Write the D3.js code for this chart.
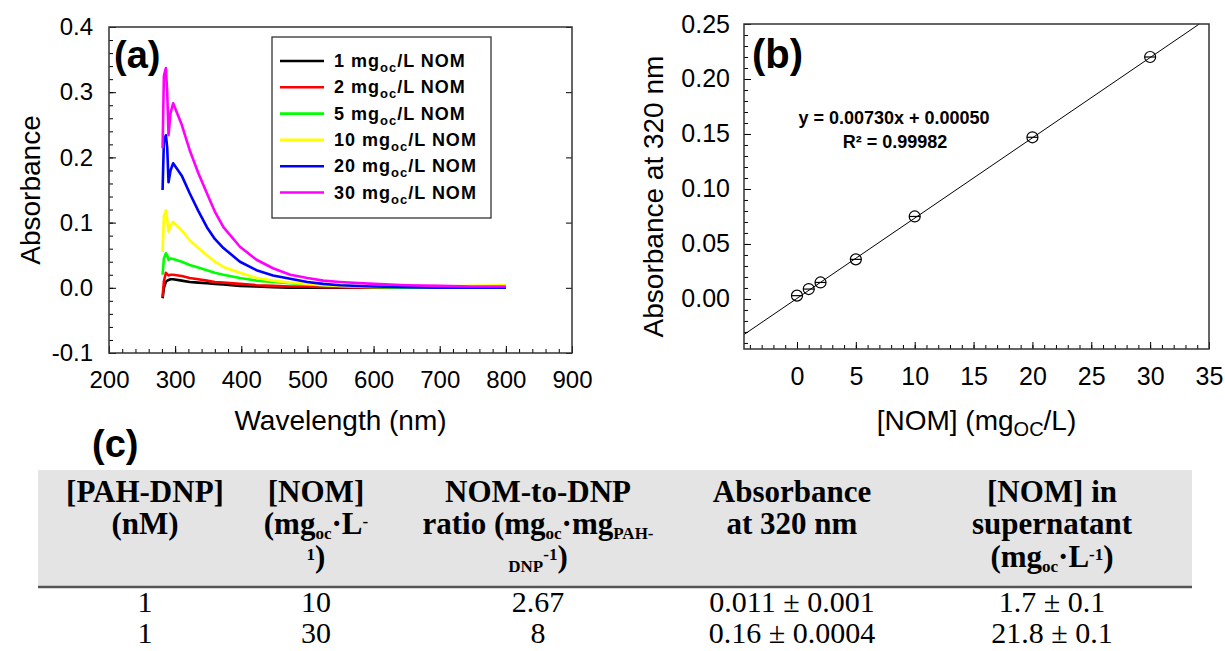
<!DOCTYPE html>
<html>
<head>
<meta charset="utf-8">
<script src="https://cdn.jsdelivr.net/npm/d3@7"></script>
<style>
  body { margin: 0; background: #fff; }
  svg { display: block; }
  text { font-family: Arial, "Liberation Sans", sans-serif; fill: #000; }
  .tbl text { font-family: "Times New Roman", "Liberation Serif", serif; }
</style>
</head>
<body>
<div id="chart"></div>
<script>
// ---- (a) UV-vis spectra, absorbance vs wavelength (nm) ----
const wavelength = [281, 283, 286, 288, 290, 293, 297, 310, 322, 335, 348, 360, 373, 398, 423, 448, 474, 500, 524, 549, 600, 650, 700, 750, 800];
const nom1  = [-0.016, 0.000, 0.009, 0.011, 0.012, 0.013, 0.013, 0.011, 0.009, 0.008, 0.007, 0.006, 0.005, 0.003, 0.002, 0.001, 0.000, 0.000, 0.000, 0.000, 0.000, 0.000, 0.000, 0.000, 0.000];
const nom2  = [-0.014, 0.010, 0.023, 0.021, 0.019, 0.020, 0.020, 0.018, 0.015, 0.013, 0.011, 0.009, 0.008, 0.006, 0.004, 0.003, 0.002, 0.002, 0.001, 0.001, 0.000, 0.000, 0.000, 0.000, 0.000];
const nom5  = [0.020, 0.045, 0.053, 0.050, 0.043, 0.045, 0.044, 0.040, 0.035, 0.031, 0.027, 0.023, 0.020, 0.015, 0.011, 0.009, 0.007, 0.005, 0.004, 0.003, 0.001, 0.000, 0.000, 0.000, 0.000];
const nom10 = [0.055, 0.110, 0.119, 0.105, 0.086, 0.096, 0.101, 0.088, 0.073, 0.061, 0.050, 0.040, 0.032, 0.023, 0.015, 0.011, 0.008, 0.006, 0.004, 0.003, 0.002, 0.002, 0.002, 0.003, 0.004];
const nom20 = [0.150, 0.225, 0.234, 0.215, 0.162, 0.180, 0.191, 0.172, 0.145, 0.118, 0.093, 0.075, 0.061, 0.040, 0.027, 0.019, 0.014, 0.009, 0.006, 0.004, 0.002, 0.001, 0.000, 0.000, 0.000];
const nom30 = [0.214, 0.325, 0.337, 0.300, 0.234, 0.268, 0.283, 0.250, 0.211, 0.176, 0.145, 0.117, 0.093, 0.063, 0.043, 0.030, 0.020, 0.015, 0.011, 0.009, 0.006, 0.004, 0.003, 0.002, 0.002];
const seriesNames = ["1", "2", "5", "10", "20", "30"];
const xTicksA = [200, 300, 400, 500, 600, 700, 800, 900];
const yTicksA = [-0.1, 0.0, 0.1, 0.2, 0.3, 0.4];

// ---- (b) calibration at 320 nm ----
const nomConc = [0, 1, 2, 5, 10, 20, 30];
const abs320 = [0.003, 0.009, 0.015, 0.036, 0.075, 0.147, 0.220];
const fitSlope = 0.00730;
const fitIntercept = 0.00050;
const xTicksB = [0, 5, 10, 15, 20, 25, 30, 35];
const yTicksB = [0.00, 0.05, 0.10, 0.15, 0.20, 0.25];

// ---- (c) table ----
const colPahDnp = ["1", "1"];
const colNom = ["10", "30"];
const colRatio = ["2.67", "8"];
const colAbs = ["0.011 \u00b1 0.001", "0.16 \u00b1 0.0004"];
const colSupernatant = ["1.7 \u00b1 0.1", "21.8 \u00b1 0.1"];

const spectra = [nom1, nom2, nom5, nom10, nom20, nom30];
const colorScale = d3.scaleOrdinal()
    .domain(seriesNames)
    .range(["#000000", "#ff0000", "#00ff00", "#ffff00", "#0000ff", "#ff00ff"]);

const svg = d3.select('#chart').append('svg')
    .attr('width', 1225)
    .attr('height', 651);

// style an axis group: no domain line, inward ticks, big labels
function styleAxis(g, size) {
  g.select('.domain').remove();
  g.attr('font-size', size).attr('font-family', 'Arial, "Liberation Sans", sans-serif');
  g.selectAll('line').attr('stroke', '#000').attr('stroke-width', 1);
  g.selectAll('text').attr('fill', '#000');
}

// ================= panel (a) =================
const A = {left: 109, right: 572, top: 27, bottom: 353};
const xA = d3.scaleLinear().domain([200, 900]).range([A.left, A.right]);
const yA = d3.scaleLinear().domain([-0.1, 0.4]).range([A.bottom, A.top]);
const gA = svg.append('g');

gA.append('g').attr('transform', `translate(0,${A.bottom})`)
    .call(d3.axisBottom(xA).tickValues(d3.range(200, 901, 20)).tickSize(-4).tickFormat(''))
    .call(g => styleAxis(g, 24));
gA.append('g').attr('transform', `translate(0,${A.bottom})`)
    .call(d3.axisBottom(xA).tickValues(xTicksA).tickSize(-7).tickPadding(18).tickFormat(d3.format('d')))
    .call(g => styleAxis(g, 24));
gA.append('g').attr('transform', `translate(${A.left},0)`)
    .call(d3.axisLeft(yA).tickValues(d3.range(-0.1, 0.401, 0.02)).tickSize(-4).tickFormat(''))
    .call(g => styleAxis(g, 24));
gA.append('g').attr('transform', `translate(${A.left},0)`)
    .call(d3.axisLeft(yA).tickValues(yTicksA).tickSize(-7).tickPadding(16).tickFormat(d => d.toFixed(1)))
    .call(g => styleAxis(g, 24));
gA.append('g').attr('transform', `translate(${A.right},0)`)
    .call(d3.axisRight(yA).tickValues(yTicksA).tickSize(-6).tickFormat(''))
    .call(g => styleAxis(g, 24));

const lineA = d3.line()
    .x((d, i) => xA(wavelength[i]))
    .y(d => yA(d));

gA.selectAll('.spectrum')
    .data(seriesNames)
    .join('path')
    .attr('class', 'spectrum')
    .attr('fill', 'none')
    .attr('stroke', d => colorScale(d))
    .attr('stroke-width', 2.6)
    .attr('stroke-linejoin', 'round')
    .attr('d', (d, i) => lineA(spectra[i]));

gA.append('rect')
    .attr('x', A.left).attr('y', A.top)
    .attr('width', A.right - A.left).attr('height', A.bottom - A.top)
    .attr('fill', 'none').attr('stroke', '#333').attr('stroke-width', 1.5);

// legend
const legend = gA.append('g');
legend.append('rect')
    .attr('x', 272).attr('y', 37).attr('width', 219).attr('height', 181)
    .attr('fill', '#fff').attr('stroke', '#333').attr('stroke-width', 1.3);
const legItem = legend.selectAll('.leg')
    .data(seriesNames)
    .join('g')
    .attr('class', 'leg')
    .attr('transform', (d, i) => `translate(0,${61 + i * 26.3})`);
legItem.append('line')
    .attr('x1', 280).attr('x2', 324)
    .attr('stroke', d => colorScale(d)).attr('stroke-width', 2.6);
const legText = legItem.append('text')
    .attr('x', 334).attr('y', 6)
    .attr('font-size', 18).attr('font-weight', 'bold')
    .attr('letter-spacing', 1);
legText.append('tspan').text(d => d + ' mg');
legText.append('tspan').attr('font-size', 13).attr('dy', 5).text('oc');
legText.append('tspan').attr('dy', -5).text('/L NOM');

gA.append('text')
    .attr('x', 114).attr('y', 68)
    .attr('font-size', 38).attr('font-weight', 'bold')
    .text('(a)');
gA.append('text')
    .attr('x', (A.left + A.right) / 2).attr('y', 430)
    .attr('text-anchor', 'middle').attr('font-size', 28)
    .text('Wavelength (nm)');
gA.append('text')
    .attr('transform', `translate(40,${(A.top + A.bottom) / 2}) rotate(-90)`)
    .attr('text-anchor', 'middle').attr('font-size', 28)
    .text('Absorbance');

// ================= panel (b) =================
const B = {left: 744, right: 1209, top: 24, bottom: 349};
const xB = d3.scaleLinear().domain([-4.5, 35]).range([B.left, B.right]);
const yB = d3.scaleLinear().domain([-0.0455, 0.25]).range([B.bottom, B.top]);
const gB = svg.append('g');

gB.append('g').attr('transform', `translate(0,${B.bottom})`)
    .call(d3.axisBottom(xB).tickValues(d3.range(-4, 35.5, 1)).tickSize(-4).tickFormat(''))
    .call(g => styleAxis(g, 25));
gB.append('g').attr('transform', `translate(0,${B.bottom})`)
    .call(d3.axisBottom(xB).tickValues(xTicksB).tickSize(-7).tickPadding(18).tickFormat(d3.format('d')))
    .call(g => styleAxis(g, 25));
gB.append('g').attr('transform', `translate(${B.left},0)`)
    .call(d3.axisLeft(yB).tickValues(d3.range(-0.04, 0.2501, 0.01)).tickSize(-4).tickFormat(''))
    .call(g => styleAxis(g, 25));
gB.append('g').attr('transform', `translate(${B.left},0)`)
    .call(d3.axisLeft(yB).tickValues(yTicksB).tickSize(-7).tickPadding(14).tickFormat(d => d.toFixed(2)))
    .call(g => styleAxis(g, 25));

// regression line, clipped at the top of the frame
const xFitEnd = Math.min(35, (0.25 - fitIntercept) / fitSlope);
const fitPts = [-4.5, xFitEnd];
gB.append('path')
    .attr('fill', 'none').attr('stroke', '#000').attr('stroke-width', 1)
    .attr('d', d3.line().x(d => xB(d)).y(d => yB(fitSlope * d + fitIntercept))(fitPts));

const pts = gB.selectAll('.pt')
    .data(nomConc)
    .join('g')
    .attr('class', 'pt')
    .attr('transform', (d, i) => `translate(${xB(d)},${yB(abs320[i])})`);
pts.append('circle').attr('r', 5.5)
    .attr('fill', 'none').attr('stroke', '#000').attr('stroke-width', 1.2);
pts.append('line').attr('x1', -5.5).attr('x2', 5.5)
    .attr('stroke', '#000').attr('stroke-width', 1.2);

gB.append('rect')
    .attr('x', B.left).attr('y', B.top)
    .attr('width', B.right - B.left).attr('height', B.bottom - B.top)
    .attr('fill', 'none').attr('stroke', '#333').attr('stroke-width', 1.5);

gB.append('text')
    .attr('x', 752).attr('y', 68)
    .attr('font-size', 40).attr('font-weight', 'bold')
    .text('(b)');
gB.append('text')
    .attr('x', 894).attr('y', 124)
    .attr('text-anchor', 'middle').attr('font-size', 18).attr('font-weight', 'bold')
    .text(`y = ${fitSlope.toFixed(5)}x + ${fitIntercept.toFixed(5)}`);
gB.append('text')
    .attr('x', 895).attr('y', 148)
    .attr('text-anchor', 'middle').attr('font-size', 18).attr('font-weight', 'bold')
    .text('R\u00b2 = 0.99982');

const xlabB = gB.append('text')
    .attr('x', (B.left + B.right) / 2).attr('y', 430)
    .attr('text-anchor', 'middle').attr('font-size', 28);
xlabB.append('tspan').text('[NOM] (mg');
xlabB.append('tspan').attr('font-size', 20).attr('dy', 6).text('OC');
xlabB.append('tspan').attr('dy', -6).text('/L)');
gB.append('text')
    .attr('transform', `translate(663,${(B.top + B.bottom) / 2 + 10}) rotate(-90)`)
    .attr('text-anchor', 'middle').attr('font-size', 28)
    .text('Absorbance at 320 nm');

// ================= table (c) =================
svg.append('text')
    .attr('x', 92).attr('y', 457)
    .attr('font-size', 38).attr('font-weight', 'bold')
    .text('(c)');

const gC = svg.append('g').attr('class', 'tbl');
const colKeys = ['pah', 'nom', 'ratio', 'abs', 'sup'];
const colX = d3.scaleOrdinal().domain(colKeys).range([145, 316, 538, 792, 1052]);

gC.append('rect')
    .attr('x', 38).attr('y', 470).attr('width', 1154).attr('height', 116)
    .attr('fill', '#e4e4e4');
gC.append('line')
    .attr('x1', 38).attr('x2', 1192).attr('y1', 587).attr('y2', 587)
    .attr('stroke', '#555').attr('stroke-width', 2.5);

// header cells: lines of [text, kind] segments
const headerCells = {
  pah:   [[['[PAH-DNP]', 'n']], [['(nM)', 'n']]],
  nom:   [[['[NOM]', 'n']], [['(mg', 'n'], ['oc', 'sub'], ['\u00b7L', 'n'], ['-', 'sup']], [['1', 'sup'], [')', 'n']]],
  ratio: [[['NOM-to-DNP', 'n']], [['ratio (mg', 'n'], ['oc', 'sub'], ['\u00b7mg', 'n'], ['PAH-', 'sub']], [['DNP', 'sub'], ['-1', 'sup'], [')', 'n']]],
  abs:   [[['Absorbance', 'n']], [['at 320 nm', 'n']]],
  sup:   [[['[NOM] in', 'n']], [['supernatant', 'n']], [['(mg', 'n'], ['oc', 'sub'], ['\u00b7L', 'n'], ['-1', 'sup'], [')', 'n']]]
};
const shift = {n: 0, sub: 5, sup: -7};
const headerBase = [502, 534, 567];

colKeys.forEach(k => {
  headerCells[k].forEach((segs, li) => {
    const t = gC.append('text')
        .attr('x', colX(k)).attr('y', headerBase[li])
        .attr('text-anchor', 'middle').attr('font-size', 31).attr('font-weight', 'bold');
    let cur = 0;
    segs.forEach(([s, kind]) => {
      t.append('tspan')
          .attr('dy', shift[kind] - cur)
          .attr('font-size', kind === 'n' ? 31 : 17)
          .text(s);
      cur = shift[kind];
    });
  });
});

const rowBase = [612, 643];
const columns = {pah: colPahDnp, nom: colNom, ratio: colRatio, abs: colAbs, sup: colSupernatant};
colKeys.forEach(k => {
  gC.selectAll('.cell-' + k)
      .data(columns[k])
      .join('text')
      .attr('class', 'cell-' + k)
      .attr('x', colX(k))
      .attr('y', (d, i) => rowBase[i])
      .attr('text-anchor', 'middle').attr('font-size', 30)
      .text(d => d);
});
</script>
</body>
</html>
